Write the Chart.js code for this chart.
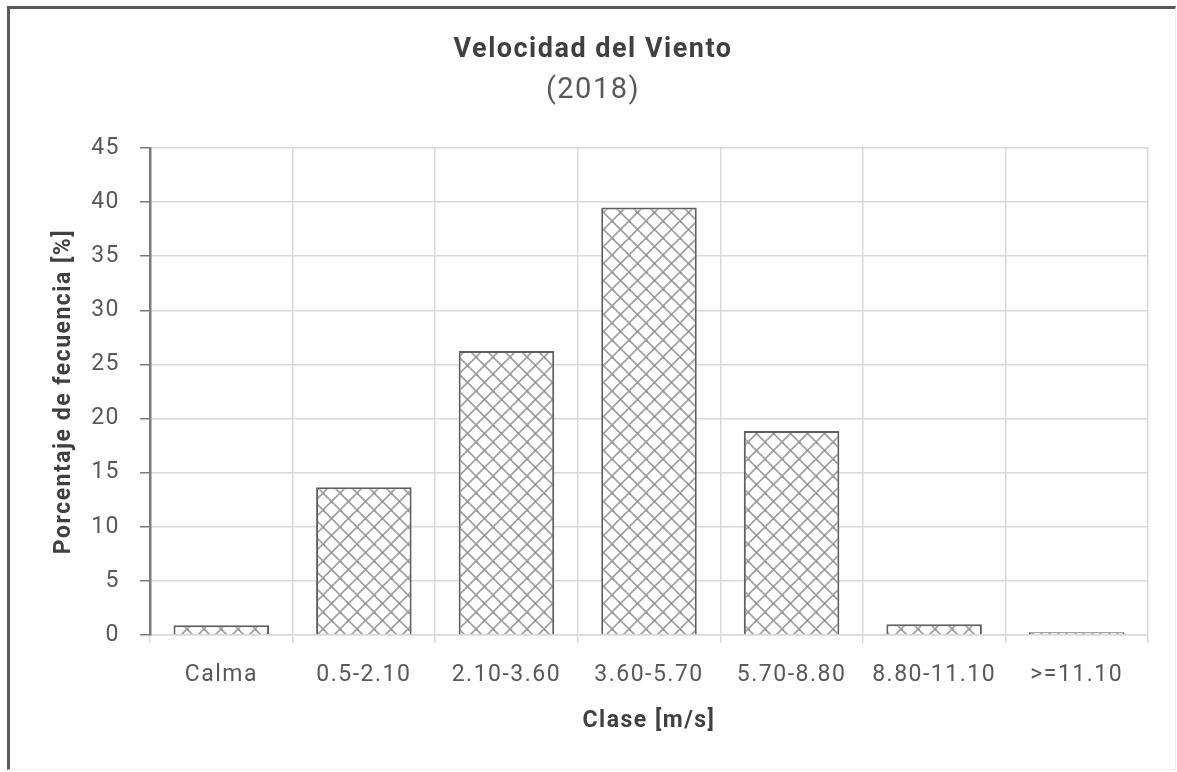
<!DOCTYPE html>
<html>
<head>
<meta charset="utf-8">
<script src="https://cdn.jsdelivr.net/npm/chart.js@4.4.1/dist/chart.umd.min.js"></script>
<style>
  html, body { margin: 0; padding: 0; background: #fff; }
  #wrap { position: relative; width: 1177px; height: 772px; overflow: hidden; }
  #frame {
    position: absolute; left: 7px; top: 6px; right: 1px; bottom: 2px;
    border-top: 3px solid #5a5a5a; border-left: 3px solid #5a5a5a;
    border-right: 1px solid #eeeeee; border-bottom: 1px solid #eeeeee;
  }
  #c { position: absolute; left: 0; top: 0; }
</style>
</head>
<body>
<div id="wrap">
  <div id="frame"></div>
  <canvas id="c" width="1177" height="772"></canvas>
</div>
<script>
// Wind speed classes and their frequency share (%)
const categories = ['Calma', '0.5-2.10', '2.10-3.60', '3.60-5.70', '5.70-8.80', '8.80-11.10', '>=11.10'];
const frequency = [0.9, 13.65, 26.25, 39.5, 18.85, 1.0, 0.25];
const yTicks = [0, 5, 10, 15, 20, 25, 30, 35, 40, 45];

const FONT = "'Roboto', 'Liberation Sans', sans-serif";

// Diagonal cross-hatch fill for the bars
function makeHatch() {
  const p = 17;
  const cv = document.createElement('canvas');
  cv.width = p; cv.height = p;
  const g = cv.getContext('2d');
  g.fillStyle = '#ffffff';
  g.fillRect(0, 0, p, p);
  g.strokeStyle = '#a0a0a0';
  g.lineWidth = 1.6;
  g.beginPath();
  g.moveTo(-1, -1); g.lineTo(p + 1, p + 1);
  g.moveTo(p + 1, -1); g.lineTo(-1, p + 1);
  g.stroke();
  g.fillStyle = '#8a8a8a';
  g.fillRect(0, 0, 1.5, 1.5);
  g.fillRect(p / 2 - 0.75, p / 2 - 0.75, 1.5, 1.5);
  return g.createPattern(cv, 'repeat');
}

// Slightly spaced lettering for all chart text
const spacing = {
  id: 'spacing',
  beforeLayout(chart) { chart.ctx.letterSpacing = '1.5px'; },
  beforeDraw(chart) { chart.ctx.letterSpacing = '1.5px'; }
};

const ctx = document.getElementById('c').getContext('2d');
const hatch = makeHatch();

new Chart(ctx, {
  type: 'bar',
  plugins: [spacing],
  data: {
    labels: categories,
    datasets: [{
      data: frequency,
      backgroundColor: hatch,
      borderColor: '#5f5f5f',
      borderWidth: 2,
      categoryPercentage: 1,
      barPercentage: 0.67
    }]
  },
  options: {
    responsive: false,
    animation: false,
    layout: { padding: { left: 38, right: 29, top: 10, bottom: 5 } },
    plugins: {
      legend: { display: false },
      tooltip: { enabled: false },
      title: {
        display: true,
        text: 'Velocidad del Viento',
        color: '#404040',
        font: { family: FONT, size: 27, weight: 'bold', lineHeight: 1.2 },
        padding: { top: 24.3, bottom: 0 }
      },
      subtitle: {
        display: true,
        text: '(2018)',
        color: '#595959',
        font: { family: FONT, size: 29, weight: 'normal', lineHeight: 1.2 },
        padding: { top: 6.4, bottom: 40.1 }
      }
    },
    scales: {
      x: {
        afterFit: (s) => { s.height = 132; },
        grid: {
          color: '#d9d9d9', lineWidth: 1.5, tickLength: 8,
          tickColor: '#d9d9d9', offset: true
        },
        border: { color: '#d9d9d9', width: 1.5 },
        ticks: {
          color: '#595959', padding: 18,
          font: { family: FONT, size: 23 },
          maxRotation: 0, autoSkip: false
        },
        title: {
          display: true,
          text: 'Clase [m/s]',
          color: '#404040',
          font: { family: FONT, size: 23, weight: 'bold', lineHeight: 1.2 },
          padding: { top: 0, bottom: 32 }
        }
      },
      y: {
        min: 0, max: 45,
        afterFit: (s) => { s.width = 112; },
        afterBuildTicks: (s) => { s.ticks = yTicks.map(v => ({ value: v })); },
        grid: {
          color: '#d9d9d9', lineWidth: 1.5, tickLength: 10,
          tickColor: '#7a7a7a'
        },
        border: { color: '#7a7a7a', width: 2.5 },
        ticks: {
          color: '#595959', padding: 20,
          font: { family: FONT, size: 23 }
        },
        title: {
          display: true,
          text: 'Porcentaje de fecuencia [%]',
          color: '#404040',
          font: { family: FONT, size: 23, weight: 'bold', lineHeight: 1.2 },
          padding: { top: 12.7, bottom: 0 }
        }
      }
    }
  }
});
</script>
</body>
</html>
